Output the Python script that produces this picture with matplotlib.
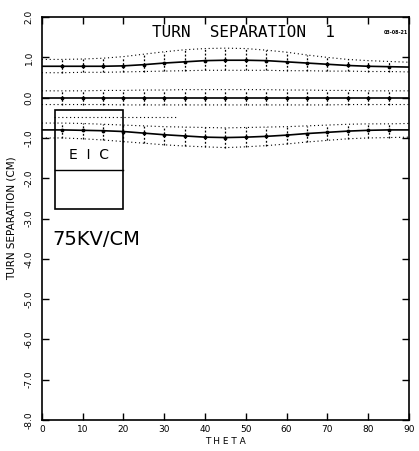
import matplotlib
matplotlib.use("Agg")
import matplotlib.pyplot as plt
from matplotlib.patches import Rectangle

# theta grid (deg)
theta = [0, 5, 10, 15, 20, 25, 30, 35, 40, 45, 50, 55, 60, 65, 70, 75, 80, 85, 90]

# turn 1 (top)
top_mid = [0.78, 0.78, 0.78, 0.78, 0.79, 0.82, 0.86, 0.89, 0.92, 0.93, 0.93, 0.92, 0.89, 0.86, 0.83, 0.80, 0.78, 0.77, 0.76]
top_hi = [0.95, 0.95, 0.96, 0.98, 1.02, 1.08, 1.14, 1.19, 1.22, 1.23, 1.22, 1.18, 1.13, 1.06, 1.00, 0.95, 0.92, 0.90, 0.88]
top_lo = [0.62, 0.62, 0.63, 0.63, 0.64, 0.65, 0.66, 0.67, 0.68, 0.68, 0.68, 0.68, 0.67, 0.67, 0.66, 0.66, 0.65, 0.65, 0.64]

# turn 2 (middle)
mid_mid = [-0.02] * 19
mid_hi = [0.17, 0.17, 0.17, 0.18, 0.18, 0.19, 0.19, 0.20, 0.20, 0.20, 0.20, 0.20, 0.19, 0.19, 0.18, 0.18, 0.17, 0.17, 0.17]
mid_lo = [-0.17, -0.17, -0.17, -0.17, -0.18, -0.18, -0.18, -0.18, -0.18, -0.18, -0.18, -0.18, -0.18, -0.18, -0.18, -0.17, -0.17, -0.17, -0.17]

# turn 3 (bottom)
bot_mid = [-0.80, -0.80, -0.81, -0.82, -0.84, -0.88, -0.92, -0.95, -0.98, -0.99, -0.98, -0.96, -0.93, -0.89, -0.86, -0.83, -0.81, -0.80, -0.80]
bot_hi = [-0.63, -0.63, -0.64, -0.66, -0.68, -0.70, -0.72, -0.73, -0.74, -0.75, -0.74, -0.73, -0.72, -0.70, -0.68, -0.66, -0.65, -0.65, -0.64]
bot_lo = [-1.00, -1.00, -1.02, -1.05, -1.09, -1.13, -1.17, -1.20, -1.22, -1.24, -1.22, -1.19, -1.15, -1.10, -1.06, -1.02, -1.00, -0.99, -0.98]

# stray dotted trace near left
extra_theta = [3, 33]
extra_y = [-0.48, -0.48]

xticks = [0, 10, 20, 30, 40, 50, 60, 70, 80, 90]
yticks = [2.0, 1.0, 0.0, -1.0, -2.0, -3.0, -4.0, -5.0, -6.0, -7.0, -8.0]

fig = plt.figure(figsize=(4.19, 4.51), dpi=100)
ax = fig.add_axes([0.100, 0.069, 0.876, 0.893])

inner = list(range(1, len(theta) - 1))
for mid, hi, lo in [(top_mid, top_hi, top_lo), (mid_mid, mid_hi, mid_lo), (bot_mid, bot_hi, bot_lo)]:
    ax.plot(theta, mid, color='black', lw=1.2, marker='.', ms=3.5, markevery=inner)
    ax.plot(theta, hi, color='black', lw=0.8, ls=(0, (1, 2.5)))
    ax.plot(theta, lo, color='black', lw=0.8, ls=(0, (1, 2.5)))
    ax.vlines([theta[i] for i in inner], [lo[i] for i in inner], [hi[i] for i in inner],
              colors='black', lw=0.9, linestyles=(0, (1.5, 1.5)))
ax.plot(extra_theta, extra_y, color='black', lw=0.8, ls=(0, (1, 2.5)))

# EIC box
ax.add_patch(Rectangle((3.2, -2.76), 16.7, 2.45, fill=False, ec='black', lw=1.2, zorder=5))
ax.plot([3.2, 19.9], [-1.8, -1.8], color='black', lw=1.0, zorder=5)
ax.text(11.5, -1.43, 'E  I  C', ha='center', va='center', fontsize=10, zorder=6)

ax.text(2.5, -3.53, '75KV/CM', ha='left', va='center', fontsize=14)
ax.text(49.5, 1.63, 'TURN  SEPARATION  1', ha='center', va='center', fontsize=11.5,
        family='DejaVu Sans Mono')
ax.text(89.8, 1.63, '03-08-21', ha='right', va='center', fontsize=3.5, weight='bold')

ax.set_xlim(0, 90)
ax.set_ylim(-8, 2)
ax.set_xticks(xticks)
ax.set_xticklabels([str(t) for t in xticks], fontsize=6.5)
ax.set_yticks(yticks)
ax.set_yticklabels(['%.1f' % v for v in yticks], fontsize=6.5, rotation=90, va='center')
ax.tick_params(direction='in', length=5, width=1, top=True, right=True)
ax.tick_params(axis='x', pad=4)
ax.tick_params(axis='y', pad=6)
for s in ax.spines.values():
    s.set_linewidth(1.2)

ax.set_xlabel('T H E T A', fontsize=6.5, labelpad=2)
ax.set_ylabel('TURN SEPARATION (CM)', fontsize=7.5, labelpad=6)

fig.savefig('out.png', dpi=100)
